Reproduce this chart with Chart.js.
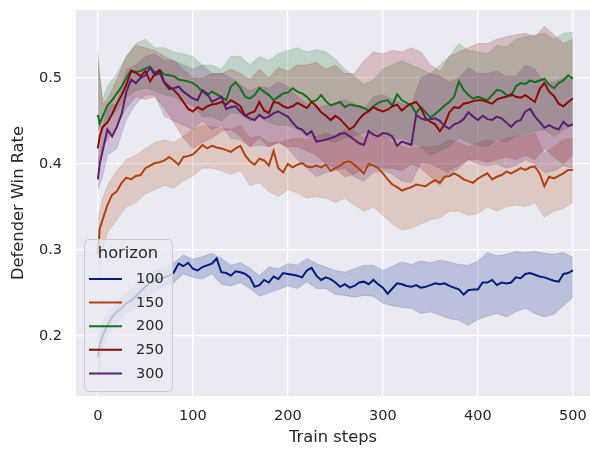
<!DOCTYPE html>
<html><head><meta charset="utf-8">
<script src="https://cdn.jsdelivr.net/npm/chart.js@4/dist/chart.umd.min.js"></script>
<style>html,body{margin:0;padding:0;background:#fff}#wrap{width:590px;height:450px;position:relative}</style>
</head><body><div id="wrap"><canvas id="c" width="590" height="450"></canvas></div>
<script>
// x positions (train steps) of the mean curves
const steps = [0,2,
  5,10,15,20,25,30,35,40,45,50, 55,60,65,70,75,80,85,90,95,100,
  105,110,115,120,125,130,135,140,145,150, 155,160,165,170,175,180,185,190,195,200,
  205,210,215,220,225,230,235,240,245,250, 255,260,265,270,275,280,285,290,295,300,
  305,310,315,320,325,330,335,340,345,350, 355,360,365,370,375,380,385,390,395,400,
  405,410,415,420,425,430,435,440,445,450, 455,460,465,470,475,480,485,490,495,500];
// x positions of the confidence band edges
const bandSteps = [0,5,10,20,30,40,50,60,70,80,90,100,
  110,120,130,140,150,160,170,180,190,200,
  210,220,230,240,250,260,270,280,290,300,
  310,320,330,340,350,360,370,380,390,400,
  410,420,430,440,450,460,470,480,490,500];

const seriesNames = ['100','150','200','250','300'];
const legendTitle = 'horizon';
const xTicks = [0,100,200,300,400,500];
const yTicks = [0.2,0.3,0.4,0.5];

// horizon 100
const mean100 = [0.175,0.190,
  0.200,0.212,0.222,0.228,0.232,0.238,0.241,0.246,0.252,0.257,
  0.262,0.264,0.266,0.268,0.270,0.274,0.284,0.281,0.285,0.278,
  0.276,0.280,0.282,0.284,0.290,0.274,0.273,0.270,0.275,0.274,
  0.272,0.268,0.257,0.259,0.265,0.262,0.269,0.266,0.273,0.272,
  0.271,0.270,0.268,0.276,0.279,0.270,0.265,0.268,0.266,0.262,
  0.257,0.260,0.256,0.258,0.262,0.263,0.260,0.265,0.260,0.256,
  0.249,0.255,0.261,0.260,0.258,0.257,0.259,0.256,0.257,0.259,
  0.261,0.260,0.261,0.258,0.256,0.254,0.248,0.253,0.254,0.254,
  0.262,0.262,0.265,0.259,0.262,0.261,0.262,0.268,0.267,0.272,
  0.273,0.271,0.269,0.268,0.266,0.264,0.263,0.272,0.273,0.276];
const lo100 = [0.150,0.185,0.200,0.215,0.226,0.234,0.246,0.252,0.258,0.262,0.272,0.268,
  0.266,0.272,0.260,0.258,0.262,0.255,0.246,0.250,0.254,0.258,
  0.255,0.263,0.255,0.255,0.248,0.247,0.245,0.247,0.246,0.238,
  0.235,0.233,0.232,0.226,0.228,0.224,0.220,0.218,0.212,0.219,
  0.223,0.226,0.222,0.228,0.232,0.226,0.222,0.225,0.235,0.245];
const hi100 = [0.200,0.215,0.225,0.240,0.250,0.258,0.268,0.276,0.279,0.285,0.294,0.289,
  0.292,0.296,0.290,0.282,0.285,0.279,0.270,0.280,0.278,0.284,
  0.282,0.290,0.284,0.280,0.276,0.274,0.278,0.282,0.282,0.276,
  0.281,0.286,0.283,0.287,0.285,0.288,0.286,0.283,0.282,0.287,
  0.297,0.293,0.295,0.298,0.297,0.298,0.296,0.295,0.297,0.291];

// horizon 150
const mean150 = [0.295,0.325,
  0.335,0.352,0.364,0.368,0.378,0.384,0.382,0.386,0.387,0.395,
  0.398,0.401,0.402,0.404,0.408,0.404,0.399,0.408,0.409,0.411,
  0.416,0.422,0.418,0.421,0.419,0.418,0.416,0.414,0.418,0.421,
  0.410,0.403,0.399,0.406,0.404,0.398,0.415,0.395,0.390,0.400,
  0.396,0.399,0.401,0.397,0.396,0.398,0.396,0.399,0.392,0.395,
  0.398,0.402,0.403,0.399,0.394,0.389,0.400,0.398,0.395,0.389,
  0.382,0.376,0.373,0.369,0.371,0.373,0.376,0.375,0.374,0.378,
  0.381,0.378,0.385,0.386,0.389,0.386,0.382,0.380,0.378,0.383,
  0.386,0.389,0.382,0.385,0.387,0.391,0.389,0.392,0.395,0.393,
  0.396,0.397,0.389,0.374,0.385,0.383,0.386,0.389,0.393,0.393];
const lo150 = [0.265,0.300,0.320,0.335,0.350,0.355,0.365,0.370,0.375,0.372,0.380,0.386,
  0.395,0.395,0.392,0.388,0.392,0.375,0.378,0.368,0.362,0.370,
  0.366,0.360,0.362,0.360,0.355,0.360,0.352,0.345,0.350,0.340,
  0.330,0.323,0.325,0.330,0.335,0.337,0.345,0.345,0.340,0.342,
  0.350,0.345,0.350,0.352,0.350,0.355,0.338,0.345,0.348,0.355];
const hi150 = [0.335,0.360,0.375,0.392,0.405,0.410,0.418,0.425,0.428,0.425,0.432,0.440,
  0.445,0.443,0.442,0.440,0.445,0.430,0.432,0.425,0.425,0.428,
  0.430,0.428,0.432,0.436,0.432,0.440,0.438,0.430,0.440,0.432,
  0.425,0.420,0.418,0.420,0.420,0.422,0.428,0.425,0.420,0.424,
  0.428,0.425,0.430,0.432,0.433,0.436,0.412,0.420,0.428,0.430];

// horizon 200
const mean200 = [0.457,0.447,
  0.455,0.468,0.474,0.482,0.490,0.500,0.509,0.507,0.508,0.511,
  0.513,0.506,0.509,0.504,0.503,0.502,0.498,0.497,0.496,0.494,
  0.490,0.484,0.480,0.484,0.481,0.478,0.474,0.490,0.495,0.488,
  0.478,0.476,0.480,0.488,0.484,0.480,0.474,0.478,0.482,0.483,
  0.488,0.484,0.482,0.478,0.472,0.474,0.480,0.473,0.468,0.470,
  0.472,0.466,0.469,0.468,0.467,0.465,0.462,0.467,0.471,0.473,
  0.474,0.468,0.481,0.474,0.471,0.468,0.459,0.466,0.460,0.454,
  0.458,0.463,0.468,0.472,0.478,0.496,0.486,0.480,0.476,0.478,
  0.476,0.474,0.480,0.486,0.485,0.480,0.479,0.490,0.494,0.493,
  0.497,0.495,0.497,0.499,0.492,0.488,0.494,0.497,0.503,0.499];
const lo200 = [0.440,0.440,0.450,0.462,0.478,0.485,0.488,0.485,0.480,0.478,0.472,0.468,
  0.455,0.455,0.450,0.460,0.458,0.450,0.455,0.448,0.445,0.445,
  0.440,0.432,0.430,0.428,0.425,0.430,0.432,0.436,0.440,0.432,
  0.428,0.430,0.425,0.420,0.410,0.415,0.420,0.430,0.425,0.422,
  0.420,0.428,0.425,0.432,0.435,0.438,0.440,0.432,0.440,0.445];
const hi200 = [0.530,0.475,0.490,0.505,0.525,0.540,0.545,0.535,0.535,0.530,0.528,0.525,
  0.515,0.515,0.510,0.525,0.525,0.515,0.525,0.520,0.528,0.532,
  0.535,0.530,0.533,0.530,0.522,0.510,0.502,0.492,0.498,0.510,
  0.515,0.520,0.515,0.510,0.505,0.515,0.525,0.540,0.532,0.530,
  0.528,0.538,0.536,0.545,0.548,0.550,0.552,0.545,0.552,0.553];

// horizon 250
const mean250 = [0.418,0.432,
  0.443,0.448,0.458,0.470,0.480,0.492,0.508,0.506,0.502,0.508,
  0.496,0.505,0.509,0.495,0.490,0.486,0.480,0.472,0.464,0.461,
  0.466,0.463,0.467,0.469,0.470,0.472,0.469,0.474,0.471,0.467,
  0.456,0.459,0.461,0.472,0.462,0.459,0.472,0.471,0.467,0.465,
  0.467,0.471,0.468,0.465,0.472,0.467,0.460,0.456,0.451,0.456,
  0.452,0.446,0.440,0.444,0.452,0.458,0.461,0.466,0.463,0.461,
  0.463,0.467,0.469,0.462,0.467,0.470,0.472,0.465,0.453,0.449,
  0.446,0.438,0.446,0.460,0.466,0.465,0.470,0.471,0.473,0.474,
  0.474,0.472,0.470,0.475,0.477,0.478,0.481,0.478,0.477,0.480,
  0.476,0.472,0.487,0.494,0.484,0.479,0.470,0.467,0.472,0.476];
const lo250 = [0.400,0.420,0.428,0.445,0.465,0.478,0.475,0.478,0.465,0.448,0.430,0.418,
  0.425,0.430,0.438,0.440,0.432,0.420,0.430,0.420,0.425,0.420,
  0.420,0.415,0.410,0.400,0.395,0.385,0.388,0.395,0.398,0.395,
  0.395,0.392,0.400,0.395,0.385,0.375,0.392,0.398,0.405,0.405,
  0.402,0.405,0.408,0.405,0.410,0.405,0.418,0.408,0.400,0.410];
const hi250 = [0.520,0.470,0.475,0.498,0.525,0.538,0.535,0.532,0.525,0.520,0.510,0.500,
  0.500,0.505,0.505,0.510,0.505,0.498,0.510,0.500,0.512,0.508,
  0.515,0.515,0.518,0.510,0.515,0.505,0.505,0.520,0.530,0.528,
  0.532,0.530,0.535,0.530,0.515,0.508,0.525,0.530,0.535,0.540,
  0.540,0.545,0.548,0.550,0.552,0.548,0.560,0.550,0.540,0.545];

// horizon 300
const mean300 = [0.382,0.400,
  0.415,0.440,0.432,0.443,0.458,0.484,0.498,0.494,0.500,0.503,
  0.512,0.503,0.506,0.494,0.487,0.488,0.490,0.484,0.480,0.476,
  0.474,0.486,0.482,0.472,0.475,0.478,0.464,0.466,0.467,0.461,
  0.456,0.453,0.451,0.457,0.453,0.455,0.459,0.461,0.458,0.455,
  0.448,0.442,0.440,0.434,0.438,0.426,0.427,0.428,0.430,0.432,
  0.435,0.436,0.432,0.428,0.424,0.422,0.438,0.434,0.432,0.436,
  0.435,0.432,0.421,0.426,0.424,0.422,0.457,0.453,0.451,0.452,
  0.453,0.450,0.444,0.441,0.446,0.448,0.452,0.460,0.455,0.451,
  0.456,0.452,0.451,0.455,0.453,0.448,0.443,0.449,0.451,0.461,
  0.464,0.455,0.449,0.442,0.445,0.442,0.440,0.449,0.444,0.446];
const lo300 = [0.370,0.385,0.410,0.418,0.452,0.470,0.480,0.480,0.455,0.450,0.445,0.440,
  0.450,0.440,0.445,0.430,0.428,0.420,0.422,0.420,0.425,0.418,
  0.405,0.395,0.385,0.390,0.392,0.395,0.385,0.380,0.390,0.392,
  0.388,0.380,0.378,0.402,0.400,0.395,0.388,0.395,0.405,0.400,
  0.398,0.400,0.395,0.398,0.405,0.400,0.390,0.392,0.398,0.395];
const hi300 = [0.400,0.440,0.468,0.470,0.510,0.515,0.525,0.528,0.520,0.520,0.515,0.510,
  0.515,0.505,0.505,0.500,0.492,0.485,0.490,0.488,0.495,0.490,
  0.478,0.470,0.465,0.468,0.470,0.475,0.470,0.462,0.478,0.480,
  0.475,0.470,0.468,0.500,0.505,0.502,0.495,0.500,0.512,0.505,
  0.505,0.508,0.502,0.502,0.515,0.510,0.495,0.495,0.500,0.498];

const means = [mean100, mean150, mean200, mean250, mean300];
const lows = [lo100, lo150, lo200, lo250, lo300];
const highs = [hi100, hi150, hi200, hi250, hi300];
const colors = ['#001c7f','#b1400d','#12711c','#8c0800','#591e71'];
const bandColors = ['rgba(0,28,127,0.2)','rgba(177,64,13,0.2)','rgba(18,113,28,0.2)','rgba(140,8,0,0.2)','rgba(89,30,113,0.2)'];

const FONT = 'DejaVu Sans';
const TXT = '#262626';

const datasets = [];
seriesNames.forEach((name, i) => {
  datasets.push({
    label: name + ' lower', data: bandSteps.map((s, k) => ({x: s, y: lows[i][k]})),
    borderColor: bandColors[i], borderWidth: 0.8, pointRadius: 0, fill: false, order: 20 - i, isBand: true
  });
  datasets.push({
    label: name + ' upper', data: bandSteps.map((s, k) => ({x: s, y: highs[i][k]})),
    borderColor: bandColors[i], borderWidth: 0.8, pointRadius: 0, fill: '-1', backgroundColor: bandColors[i], order: 20 - i, isBand: true
  });
  datasets.push({
    label: name, data: steps.map((s, k) => ({x: s, y: means[i][k]})),
    borderColor: colors[i], borderWidth: 2, pointRadius: 0, fill: false, order: 10 - i
  });
});

const bgPlugin = {
  id: 'bg',
  beforeDraw(chart) {
    const {ctx, chartArea: a} = chart;
    ctx.save();
    ctx.fillStyle = '#ffffff';
    ctx.fillRect(0, 0, chart.width, chart.height);
    ctx.fillStyle = '#eaeaf2';
    ctx.fillRect(a.left, a.top, a.right - a.left, a.bottom - a.top);
    ctx.restore();
  }
};

const legendPlugin = {
  id: 'hlegend',
  afterDatasetsDraw(chart) {
    const ctx = chart.ctx;
    ctx.save();
    ctx.beginPath();
    ctx.roundRect(84.5, 239.5, 88, 152, 4);
    ctx.fillStyle = 'rgba(234,234,242,0.8)';
    ctx.fill();
    ctx.strokeStyle = '#cccccc';
    ctx.lineWidth = 1;
    ctx.stroke();
    ctx.fillStyle = TXT;
    ctx.textBaseline = 'middle';
    ctx.textAlign = 'center';
    ctx.font = '16.3px "' + FONT + '"';
    ctx.fillText(legendTitle, 128, 254);
    ctx.textAlign = 'left';
    ctx.font = '14.5px "' + FONT + '"';
    const lines = chart.data.datasets.filter(d => !d.isBand);
    lines.forEach((d, i) => {
      const y = 279 + i * 23.6;
      ctx.strokeStyle = d.borderColor;
      ctx.lineWidth = 2;
      ctx.beginPath();
      ctx.moveTo(89, y);
      ctx.lineTo(122, y);
      ctx.stroke();
      ctx.fillText(d.label, 136, y + 0.5);
    });
    ctx.restore();
  }
};

function noPad(s) {
  s.paddingTop = 0; s.paddingBottom = 0; s.paddingLeft = 0; s.paddingRight = 0;
}

new Chart(document.getElementById('c'), {
  type: 'line',
  data: {datasets},
  options: {
    responsive: false,
    animation: false,
    events: [],
    devicePixelRatio: 1,
    layout: {padding: {top: 10, right: 0, left: 0, bottom: 0}},
    plugins: {legend: {display: false}, tooltip: {enabled: false}},
    elements: {line: {tension: 0}},
    scales: {
      x: {
        type: 'linear', min: -23, max: 518,
        afterBuildTicks: s => { s.ticks = xTicks.map(v => ({value: v})); },
        afterFit: s => { s.height = 54; noPad(s); },
        grid: {color: '#ffffff', lineWidth: 1.3, drawTicks: false},
        border: {display: false},
        ticks: {padding: 12, color: TXT, font: {family: FONT, size: 14.5}, maxRotation: 0, autoSkip: false, callback: v => String(v)},
        title: {display: true, text: 'Train steps', color: TXT, font: {family: FONT, size: 16.3}, padding: {top: 0, bottom: 2}}
      },
      y: {
        type: 'linear', min: 0.13, max: 0.579,
        afterBuildTicks: s => { s.ticks = yTicks.map(v => ({value: v})); },
        afterFit: s => { s.width = 76; noPad(s); },
        grid: {color: '#ffffff', lineWidth: 1.3, drawTicks: false},
        border: {display: false},
        ticks: {padding: 14, color: TXT, font: {family: FONT, size: 14.5}, callback: v => v.toFixed(1)},
        title: {display: true, text: 'Defender Win Rate', color: TXT, font: {family: FONT, size: 16.3}, padding: {top: 9, bottom: 0}}
      }
    }
  },
  plugins: [bgPlugin, legendPlugin]
});
</script>
</body></html>
